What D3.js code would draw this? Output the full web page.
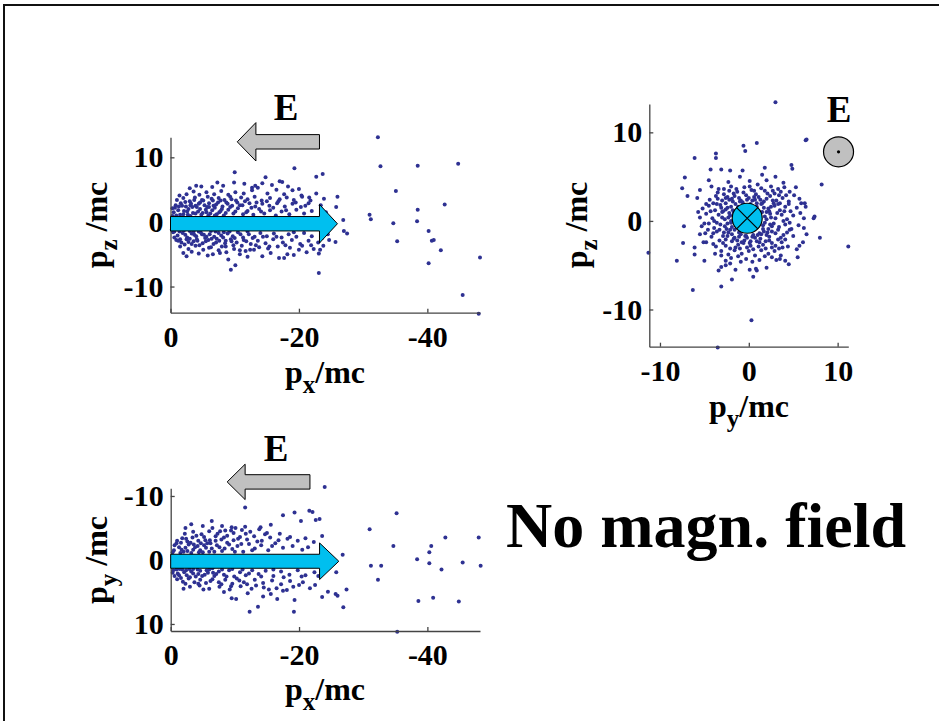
<!DOCTYPE html>
<html><head><meta charset="utf-8">
<script src="https://cdn.jsdelivr.net/npm/d3@7"></script>
<style>
body{margin:0;background:#fff}
svg{display:block}
text{font-family:"Liberation Serif","Times New Roman",serif;font-weight:bold;fill:#000}
</style>
</head><body>
<svg id="c" width="939" height="721"></svg>
<script>
// ---------- data ----------
const pxTicks = [0, -20, -40];
const pyTicks = [-10, 0, 10];
const pzTicks = [-10, 0, 10];
const titleText = "No magn. field";
const fieldLabel = "E";

// panel 1 : [px, pz]
const pzVsPx = [
 [-32.3,13.1],[-32.7,8.6],[-38.5,8.7],[-44.8,9.0],[-35.1,4.8],[-42.7,2.7],[-38.5,1.9],[-31.0,1.1],[-31.2,0.4],
 [-34.7,-0.2],[-38.4,0.1],[-40.2,-1.4],[-35.3,-3.0],[-40.7,-2.9],[-41.0,-2.8],[-42.1,-4.4],[-40.2,-6.4],[-48.2,-5.5],
 [-45.5,-11.3],[-48.0,-14.2],
 [-10.0,7.7],[-19.3,8.3],[-22.7,7.0],[-23.7,7.4],[-14.8,6.9],[-17.4,6.2],[-4.8,5.5],[-26.0,3.9],[-25.8,2.3],
 [-26.9,0.3],[-27.0,-1.4],[-27.5,-1.8],[-25.7,-3.1],[-23.1,-7.9],[-9.4,-7.4],[-10.1,-6.7],[-2.5,-5.3],[-14.3,-5.3],
 [-16.9,-5.6],[-17.7,-5.6],[-19.2,-5.1],[-23.1,-4.9],[-23.3,-4.3],[-23.8,-3.7],[-6.6,-5.0],[-8.7,-4.7],[-11.7,-4.5],[-13.0,-4.3],
 [-0.5,1.5],[-1.2,1.8],[-2.0,1.2],[-2.8,2.0],[-3.5,1.4],[-4.1,2.3],[-4.8,1.1],[-5.5,1.9],[-6.2,1.3],[-6.9,2.2],[-7.6,1.5],
 [-8.3,1.0],[-9.0,1.9],[-9.8,1.3],[-10.5,2.1],[-11.3,1.2],[-12.0,1.7],[-12.9,1.1],[-13.8,2.0],[-14.6,1.3],[-15.5,1.8],
 [-16.4,1.0],[-17.3,1.6],[-18.5,1.2],[-19.6,1.9],[-20.8,1.3],[-22.0,1.7],[-24.2,1.5],
 [-0.8,2.6],[-1.6,2.9],[-2.4,2.4],[-3.2,2.8],[-3.9,2.5],[-4.6,3.0],[-5.3,2.6],[-6.0,2.9],[-6.7,2.5],[-7.4,3.0],[-8.1,2.4],
 [-8.9,2.8],[-9.6,2.5],[-10.4,3.0],[-11.2,2.6],[-12.3,2.9],[-13.2,2.4],[-14.3,2.8],[-15.4,2.5],[-16.6,2.9],[-17.8,2.4],
 [-19.0,2.8],[-20.3,2.3],[-21.5,2.9],[-23.4,2.6],
 [-1.0,3.4],[-2.0,3.7],[-3.0,3.2],[-3.8,3.8],[-4.9,3.4],[-5.8,3.9],[-6.6,3.3],[-7.5,3.7],[-8.4,3.4],[-9.3,3.9],[-10.2,3.3],
 [-11.0,3.8],[-12.0,3.5],[-13.1,3.9],[-14.2,3.3],[-15.5,3.7],[-16.8,3.2],[-18.1,3.8],[-19.2,3.4],[-20.5,3.9],[-21.8,3.3],[-23.9,3.6],
 [-2.5,4.3],[-3.6,4.7],[-4.5,4.2],[-5.6,4.6],[-6.8,4.3],[-7.9,4.8],[-9.0,4.2],[-10.1,4.6],[-11.4,4.4],[-12.7,4.9],[-13.6,5.3],
 [-15.1,4.4],[-16.5,5.0],[-17.7,4.3],[-19.0,4.9],[-20.4,4.1],[-21.6,3.8],
 [-3.0,5.2],[-6.5,5.4],[-8.2,5.6],[-11.5,5.9],[-13.2,5.6],[-15.8,5.7],[-18.3,5.5],[-20.0,5.1],[-9.9,6.1],[-17.0,6.3],[-12.7,5.3],
 [-0.4,-1.6],[-1.1,-2.1],[-1.9,-1.7],[-2.6,-2.4],[-3.3,-1.8],[-4.0,-2.2],[-4.7,-1.6],[-5.4,-2.5],[-6.1,-1.9],[-6.8,-2.3],
 [-7.5,-1.7],[-8.2,-2.4],[-8.9,-1.8],[-9.7,-2.2],[-10.5,-1.6],[-11.3,-2.4],[-12.2,-1.9],[-13.1,-2.3],[-14.0,-1.7],[-15.0,-2.2],
 [-16.1,-1.8],[-17.3,-2.4],[-18.4,-1.9],[-19.6,-2.3],[-20.8,-1.7],[-22.0,-2.2],[-24.5,-1.9],
 [-0.9,-2.8],[-1.7,-3.2],[-2.5,-2.7],[-3.3,-3.4],[-4.2,-2.9],[-5.0,-3.3],[-5.9,-2.8],[-6.7,-3.4],[-7.6,-2.9],[-8.5,-3.3],
 [-9.4,-2.7],[-10.3,-3.2],[-11.4,-2.8],[-12.5,-3.4],[-13.6,-2.9],[-14.8,-3.3],[-16.0,-2.7],[-17.5,-3.2],[-18.9,-2.8],
 [-20.2,-3.4],[-21.5,-2.9],[-23.0,-3.2],
 [-1.5,-3.8],[-2.8,-4.2],[-3.9,-3.7],[-5.1,-4.3],[-6.3,-3.9],[-7.5,-4.4],[-8.6,-3.8],[-9.9,-4.2],[-11.1,-3.7],[-12.4,-4.3],
 [-13.8,-3.9],[-15.2,-4.1],[-16.7,-3.8],[-18.6,-4.0],[-20.5,-3.7],[-22.3,-4.2],
 [-4.4,-4.9],[-5.8,-5.2],[-7.7,-4.8],[-10.8,-5.0],[-15.6,-4.8],[-18.2,-5.0],[-21.2,-4.7],
 [-1.0,0.0],[-5.0,-0.5],[-9.0,0.3],[-14.0,-0.6],[-19.0,0.2],
 [-0.3,0.9],[-0.7,2.2],[-1.5,1.1],[-1.8,2.5],[-2.3,3.1],[-2.6,1.6],[-3.1,0.9],[-3.4,2.3],[-3.7,3.4],[-4.3,1.6],[-4.4,2.8],
 [-5.0,1.4],[-5.1,3.3],[-5.7,2.3],[-5.9,1.0],[-6.4,3.6],[-6.5,1.8],[-7.1,2.7],[-7.2,1.2],[-7.8,3.3],[-8.0,2.0],[-8.6,1.4],
 [-8.7,3.0],[-9.3,2.3],[-9.5,3.5],[-10.1,1.6],[-10.8,2.6],[-11.6,3.2],[-11.8,1.5],[-12.6,2.2],[-13.4,3.0],[-14.1,1.6],
 [-15.0,3.2],[-16.0,2.2],[-17.0,3.5],[-18.0,1.8],[-19.5,3.0],[-21.0,2.5],[-22.7,4.4],[-23.5,1.2],
 [-0.2,-1.2],[-0.6,-2.4],[-1.4,-1.5],[-1.5,-2.7],[-2.2,-3.5],[-2.3,-2.0],[-3.0,-1.4],[-3.0,-2.6],[-3.6,-3.0],[-3.7,-2.0],
 [-4.4,-1.5],[-4.5,-3.6],[-5.2,-2.0],[-5.5,-3.0],[-6.0,-4.0],[-6.4,-2.6],[-7.0,-1.5],[-7.1,-3.2],[-7.9,-2.1],[-8.0,-3.8],
 [-8.6,-2.9],[-9.2,-1.5],[-9.8,-3.6],[-10.0,-2.5],[-10.8,-4.4],[-10.9,-1.9],[-11.8,-3.0],[-12.0,-1.5],[-12.8,-2.5],
 [-13.3,-3.6],[-14.4,-2.3],[-15.4,-3.8],[-16.5,-2.3],[-17.9,-3.6],[-19.2,-1.6],[-20.0,-4.3],[-21.9,-3.6],[-23.6,-2.5],
 [-24.7,-2.8],[-2.0,-4.8],[-3.3,-4.6],[-9.0,-5.8],[-12.0,-5.4],
 [-1.4,4.1],[-4.0,5.6],[-7.3,6.1],[-14.3,6.0],
 [-0.3,2.1],[-0.9,1.0],[-1.3,2.4],[-2.1,1.7],[-2.7,1.1],[-3.1,2.6],[-3.9,1.3],[-4.6,2.0],[-5.6,1.5],[-6.0,2.3],[-6.9,1.0],
 [-7.8,1.7],[-0.6,-1.5],[-1.2,-2.9],[-2.1,-1.3],[-2.8,-3.1],[-3.6,-1.5],[-4.1,-2.7],[-4.9,-1.9],[-5.6,-2.3],[-6.3,-1.4],
 [-7.2,-2.6],[-8.3,-1.6],[-9.5,-3.0]
];

// panel 2 : [py, pz]
const pzVsPy = [
 [3.0,13.4],[6.4,9.1],[6.5,9.2],[0.9,8.8],[-0.6,8.5],[-0.4,7.9],[-3.7,7.6],[-3.7,7.1],[-6.1,7.1],[4.8,6.3],[4.9,5.9],
 [1.8,6.0],[-2.1,5.7],[-0.7,5.7],[-4.3,5.8],[-3.1,5.8],[-7.2,4.9],[8.2,4.1],[-7.5,3.7],[-6.9,2.8],[5.7,2.5],[6.3,2.0],
 [6.4,1.6],[7.4,0.5],[7.3,0.3],[-7.3,-0.6],[-5.0,-0.3],[-7.4,-2.5],[-5.1,-2.4],[-4.8,-2.4],[-6.1,-3.0],[-6.1,-3.8],
 [-11.3,-3.6],[-8.1,-4.5],[8.0,-1.9],[11.2,-2.9],[5.7,-2.8],[6.1,-2.4],[5.5,-4.1],[4.1,-4.5],[3.5,-4.3],[-3.1,-5.2],
 [-2.6,-5.0],[-2.1,-4.8],[-1.5,-5.5],[0.1,-5.5],[0.8,-5.4],[0.9,-5.6],[0.5,-6.3],[-0.9,-4.6],[-1.9,-6.6],[-3.1,-7.4],
 [-6.3,-7.8],[0.3,-11.2],[-3.5,-14.3],
 [-2.8,3.6],[-2.0,3.9],[-1.3,3.3],[-0.5,3.8],[0.3,3.5],[1.0,4.1],[1.8,3.4],[2.5,3.9],[3.3,3.6],[4.0,3.8],[-3.5,3.2],
 [-1.7,3.1],[0.8,3.0],[2.9,3.1],[4.6,3.3],[-2.3,4.4],[0.1,4.5],[2.0,4.6],[3.9,4.3],[-4.2,3.9],
 [-4.4,2.4],[-3.7,2.8],[-3.0,2.3],[-2.4,2.7],[-1.8,2.2],[-1.1,2.6],[-0.3,2.9],[0.4,2.3],[1.1,2.7],[1.7,2.2],[2.4,2.8],
 [3.1,2.3],[3.8,2.6],[4.5,2.2],[5.1,2.9],[-2.6,2.0],[-0.7,2.1],[0.9,2.0],[2.8,2.0],[-4.8,1.9],
 [-5.2,1.4],[-4.5,1.7],[-3.8,1.2],[-3.2,1.8],[-2.6,1.3],[-2.0,1.6],[1.7,1.5],[2.3,1.1],[2.9,1.7],[3.5,1.2],[4.1,1.6],
 [4.7,1.1],[-1.5,1.9],[1.4,1.9],[5.4,1.5],
 [-5.5,0.4],[-4.8,0.8],[-4.1,0.3],[-3.4,0.7],[-2.7,0.2],[-2.1,0.6],[1.8,0.5],[2.4,0.8],[3.0,0.3],[3.7,0.7],[4.3,0.2],
 [5.0,0.6],[5.8,0.9],
 [-5.3,-0.6],[-4.5,-0.3],[-3.9,-0.8],[-3.2,-0.4],[-2.5,-0.9],[-2.0,-0.2],[1.6,-0.5],[2.2,-0.9],[2.8,-0.3],[3.4,-0.7],
 [4.1,-0.4],[4.8,-0.9],[5.6,-0.5],[6.2,-0.8],
 [-4.9,-1.4],[-4.2,-1.8],[-3.6,-1.2],[-2.9,-1.7],[-2.3,-1.3],[-1.6,-1.9],[-0.9,-1.5],[1.0,-1.6],[1.7,-1.2],[2.3,-1.8],
 [3.0,-1.4],[3.6,-1.9],[4.3,-1.3],[5.0,-1.7],[-0.2,-1.9],[0.4,-1.8],
 [-4.0,-2.6],[-3.3,-2.2],[-2.6,-2.8],[-1.9,-2.3],[-1.2,-2.7],[-0.5,-2.2],[0.2,-2.8],[0.9,-2.3],[1.6,-2.7],[2.3,-2.2],
 [3.0,-2.8],[3.7,-2.4],[4.4,-2.9],[-1.5,-3.0],
 [-3.1,-3.4],[-2.3,-3.8],[-1.6,-3.3],[-0.8,-3.7],[0.0,-3.4],[0.7,-3.9],[1.4,-3.3],[2.2,-3.7],[2.9,-3.4],[-3.8,-3.7],[3.6,-3.9],
 [-2.0,-4.2],[-0.3,-4.3],[1.2,-4.4],[2.6,-4.1],
 [-0.5,0.5],[0.3,-0.4],[-1.0,-0.6],[0.8,0.9],[-0.2,1.3],[1.1,0.0],[-1.3,0.4],
 [-4.0,2.0],[-3.5,2.5],[-3.1,1.5],[-2.8,3.0],[-2.2,2.4],[-2.2,3.4],[-1.6,2.8],[-1.4,3.6],[-0.9,2.3],[-0.6,3.2],[0.0,2.6],
 [0.1,3.9],[0.6,2.7],[0.6,3.4],[1.3,2.4],[1.4,3.7],[2.1,3.1],[2.0,2.5],[2.7,2.3],[2.7,3.4],[3.4,2.9],[3.5,2.0],[4.2,2.9],
 [-4.3,1.1],[-3.9,0.0],[-3.6,1.9],[-3.0,0.4],[-2.9,1.1],[-2.4,-0.3],[-2.2,0.9],[-1.8,1.2],[2.0,0.2],[2.0,1.0],[2.5,1.6],
 [2.6,-0.6],[3.2,0.9],[3.3,1.9],[3.9,0.0],[4.0,1.1],[4.6,-0.2],[4.5,1.9],[-4.6,-1.0],[-4.0,-1.4],[-3.6,-0.2],[-3.3,-1.0],
 [-2.8,-1.3],[-2.6,-2.1],[-2.1,-1.0],[-1.9,-1.5],[-1.3,-2.2],[-1.1,-1.8],[-0.6,-2.5],[-0.3,-1.7],[0.2,-2.3],[0.7,-1.9],
 [1.3,-2.0],[1.4,-1.5],[2.0,-1.6],[1.9,-2.3],[2.6,-1.2],[2.6,-2.5],[3.3,-1.0],[3.3,-2.1],[3.9,-1.6],[4.1,-2.1],[4.6,-1.0],
 [-3.7,-2.9],[-2.9,-2.5],[-2.1,-3.1],[-1.0,-3.1],[-0.2,-3.0],[0.5,-3.2],[1.1,-2.9],[1.9,-3.1],[2.6,-3.0],[3.4,-3.1],
 [-2.6,-4.5],[-1.2,-4.0],[0.4,-4.6],[1.8,-4.0],[3.1,-4.4],[-5.5,-1.5],[-5.7,1.0],[-5.8,2.6],[-5.5,3.5],[5.3,3.8],
 [5.9,2.0],[6.2,0.3],[6.5,-1.5],[5.4,-3.2],[-4.5,4.6],[-1.0,5.0],[1.5,5.2],[3.0,5.0],[-5.0,-4.5],[-3.4,-5.6],[2.0,-5.3],[4.5,-4.9],
 [-2.0,0.0],[-1.9,-0.7],[-1.7,0.9],[-1.2,1.6],[-0.6,1.8],[0.2,1.9],[0.9,1.6],[1.5,1.0],[1.8,-0.2],[1.6,-0.9],[1.2,-1.4],
 [0.5,-1.6],[-0.4,-1.7],[-1.1,-1.3],[-1.6,-1.0],[-2.3,0.4],[-2.4,1.5],[-1.9,2.5],[-1.0,2.2],[-0.2,2.4],[0.7,2.4],[1.5,2.0],
 [2.2,1.4],[2.5,0.4],[2.4,-0.4],[2.1,-1.3],[1.2,-2.4],[0.1,-2.5],[-0.8,-2.4],[-1.7,-2.0],[-2.4,-1.7],[-2.7,-0.6],[-3.0,1.0],
 [-2.6,2.6],[-3.4,3.6],[3.6,3.3],[3.8,-3.0],[-3.1,-3.9]
];

// panel 3 : [px, py]
const pyVsPx = [
 [-24.0,-11.4],[-11.6,-8.2],[-21.6,-7.7],[-22.1,-7.5],[-19.3,-7.4],[-17.5,-7.0],[-22.6,-6.25],[-23.2,-6.4],[-20.3,-6.1],
 [-6.4,-6.1],[-2.3,-5.0],[-9.5,-5.1],[-15.6,-5.5],[-35.2,-7.3],[-31.0,-4.8],[-23.6,-3.75],[-34.7,-2.2],[-42.8,-3.5],
 [-48.0,-3.5],[-40.6,-2.2],[-40.3,-1.2],[-26.8,-0.8],[-38.4,-0.1],[-40.3,0.5],[-45.5,0.4],[-48.3,0.9],[-31.2,0.9],
 [-32.8,0.9],[-42.2,1.5],[-25.8,1.9],[-32.3,3.1],[-38.6,6.4],[-40.9,5.9],[-44.9,6.5],[-27.4,4.6],[-26.9,7.4],[-24.5,4.95],
 [-25.7,5.3],[-26.0,5.6],[-23.6,5.8],[-19.2,8.1],[-19.3,6.25],[-12.3,8.1],[-13.6,7.3],[-10.2,6.1],[-9.5,6.0],[-14.4,5.7],
 [-16.6,6.1],[-17.5,4.8],[-18.1,4.7],[-35.3,11.2],[-18.6,-3.6],[-21.0,-3.4],[-22.5,3.9],[-20.6,3.5],
 [-0.5,-1.5],[-1.3,-2.0],[-2.0,-1.3],[-2.8,-2.4],[-3.5,-1.6],[-4.2,-2.2],[-5.0,-1.2],[-5.7,-2.6],[-6.4,-1.8],[-7.2,-2.3],
 [-8.0,-1.4],[-8.8,-2.7],[-9.6,-1.7],[-10.4,-2.2],[-11.3,-1.3],[-12.2,-2.5],[-13.1,-1.8],[-14.1,-2.3],[-15.2,-1.5],
 [-16.3,-2.6],[-17.5,-1.9],[-19.0,-2.2],[-20.5,-1.6],[-22.3,-2.8],
 [-1.0,-3.0],[-1.8,-3.4],[-2.6,-2.9],[-3.4,-3.5],[-4.3,-3.0],[-5.2,-3.6],[-6.1,-3.1],[-7.0,-3.7],[-7.9,-3.2],[-8.8,-3.8],
 [-9.8,-3.1],[-10.8,-3.6],[-11.9,-3.2],[-13.0,-3.7],[-14.2,-3.0],[-15.5,-3.5],[-16.8,-3.1],[-18.2,-3.3],
 [-2.2,-4.1],[-3.5,-4.4],[-4.8,-4.0],[-6.0,-4.5],[-7.3,-4.1],[-8.5,-4.6],[-9.8,-4.2],[-11.1,-4.7],[-12.4,-4.4],
 [-13.8,-4.8],[-15.0,-4.2],[-6.5,-5.0],[-8.0,-5.3],[-11.6,-5.2],[-14.0,-5.1],
 [-0.4,1.6],[-1.1,2.1],[-1.8,1.5],[-2.5,2.4],[-3.2,1.8],[-3.9,2.6],[-4.6,1.7],[-5.3,2.3],[-6.0,1.5],[-6.8,2.5],[-7.5,1.8],
 [-8.3,2.3],[-9.1,1.6],[-9.9,2.6],[-10.8,1.9],[-11.7,2.4],[-12.7,1.6],[-13.7,2.2],[-14.8,1.7],[-16.0,2.5],[-17.2,1.8],
 [-18.5,2.3],[-19.8,1.6],[-21.0,2.4],[-22.4,1.9],
 [-1.0,3.0],[-1.9,3.4],[-2.8,2.9],[-3.7,3.5],[-4.6,3.1],[-5.5,3.6],[-6.5,3.0],[-7.5,3.5],[-8.5,3.1],[-9.6,3.7],[-10.7,3.2],
 [-11.9,3.8],[-13.1,3.1],[-14.4,3.6],[-15.8,3.2],[-17.2,3.8],[-18.6,3.3],[-20.0,3.9],
 [-3.0,4.2],[-4.5,4.0],[-6.0,4.5],[-7.6,4.2],[-9.2,4.6],[-10.9,4.1],[-12.6,4.5],[-14.5,4.3],[-16.5,4.4],[-21.7,4.4],
 [-3.0,0.0],[-8.0,0.5],[-14.0,-0.3],
 [-0.6,-2.3],[-1.5,-1.1],[-1.6,-2.7],[-2.3,-1.9],[-2.4,-3.3],[-3.1,-2.7],[-3.2,-1.1],[-3.8,-2.0],[-4.0,-3.8],[-4.6,-1.5],
 [-4.7,-2.6],[-5.4,-3.1],[-5.5,-1.9],[-6.2,-2.6],[-6.8,-1.3],[-7.0,-3.0],[-7.6,-2.0],[-8.3,-3.5],[-8.4,-1.8],[-9.1,-2.4],
 [-9.4,-4.6],[-10.0,-1.3],[-10.5,-3.3],[-11.0,-2.5],[-11.7,-4.1],[-12.7,-1.5],[-13.5,-2.9],[-14.7,-4.0],[-15.8,-2.2],
 [-17.0,-4.1],[-19.8,-3.0],[-21.4,-2.0],[-3.2,-5.6],[-5.0,-5.3],[-7.7,-4.5],[-10.1,-5.0],
 [-0.6,2.5],[-1.4,1.4],[-1.6,2.8],[-2.1,1.9],[-2.3,3.7],[-2.9,1.4],[-3.0,2.7],[-3.5,2.1],[-4.2,1.5],[-4.3,3.7],[-4.9,2.5],
 [-5.1,4.6],[-5.8,2.0],[-6.2,3.3],[-6.5,1.3],[-7.1,2.2],[-7.9,3.8],[-8.0,1.5],[-8.7,2.6],[-9.4,4.1],[-9.6,1.4],[-10.3,2.9],
 [-11.2,1.5],[-11.4,3.5],[-12.2,2.1],[-13.3,4.0],[-14.1,2.6],[-15.3,4.6],[-16.0,1.5],[-17.6,2.7],[-19.1,4.2],[-20.4,2.6],
 [-23.0,2.5],[-2.0,4.5],[-8.3,5.0],[-12.0,5.2],[-15.6,5.3],
 [-0.3,-1.2],[-0.9,-2.6],[-1.7,-1.6],[-2.6,-1.4],[-3.6,-2.4],[-4.4,-1.2],[-5.2,-2.3],[-6.0,-1.3],[-0.3,2.0],[-0.9,1.5],
 [-1.3,2.4],[-2.4,1.6],[-3.5,1.4],[-4.3,2.2],[-5.6,1.6],[-6.6,2.0]
];

// ---------- drawing ----------
const svg = d3.select("#c");
const dotColor = "#2E3192", cyan = "#00BFEF", gray = "#C0C0C0", axisColor = "#444";

// frame
svg.append("path").attr("d", "M4,721 V5 H939").attr("fill", "none").attr("stroke", "#111").attr("stroke-width", 2);

const panels = [
  {data: pzVsPx, xd: [0, -48.2], xr: [170.5, 480], yd: [-14.05, 13.1], yr: [312.7, 137.3],
   xt: pxTicks, yt: pzTicks, xs: "x", ys: "z", xl: [325, 383], yl: [107, 225]},
  {data: pzVsPy, xd: [-11.2, 11.2], xr: [649.3, 848.3], yd: [-14.2, 13.2], yr: [346.7, 104],
   xt: pyTicks, yt: pzTicks, xs: "y", ys: "z", xl: [749, 417], yl: [587, 225]},
  {data: pyVsPx, xd: [0, -48.2], xr: [170.7, 480], yd: [-11.2, 11.1], yr: [488.3, 631],
   xt: pxTicks, yt: pyTicks, xs: "x", ys: "y", xl: [325, 700], yl: [107, 560]}
];

function axisLabel(x, y, sub, rot, gap) {
  const t = svg.append("text")
    .attr("transform", `translate(${x},${y})` + (rot ? " rotate(-90)" : ""))
    .attr("text-anchor", "middle").style("font-size", "32px");
  t.append("tspan").text("p");
  t.append("tspan").text(sub).attr("dy", 10).style("font-size", "25px");
  t.append("tspan").text((gap ? " " : "") + "/mc").attr("dy", -10);
}

panels.forEach(p => {
  p.x = d3.scaleLinear().domain(p.xd).range(p.xr);
  p.y = d3.scaleLinear().domain(p.yd).range(p.yr);
  const bottom = Math.max(p.yr[0], p.yr[1]);
  const g = svg.append("g");
  g.selectAll("circle").data(p.data).join("circle")
    .attr("cx", d => p.x(d[0])).attr("cy", d => p.y(d[1])).attr("r", 2).attr("fill", dotColor);

  const xa = svg.append("g").attr("transform", `translate(0,${bottom})`)
    .call(d3.axisBottom(p.x).tickValues(p.xt).tickFormat(d => String(d)).tickSizeInner(-4).tickSizeOuter(0).tickPadding(13));
  const ya = svg.append("g").attr("transform", `translate(${p.xr[0]},0)`)
    .call(d3.axisLeft(p.y).tickValues(p.yt).tickFormat(d => String(d)).tickSizeInner(-4).tickSizeOuter(0).tickPadding(7));
  [xa, ya].forEach(a => {
    a.attr("font-family", null).attr("font-size", null);
    a.selectAll("path,line").attr("stroke", axisColor).attr("stroke-width", 1.3);
    a.selectAll("text").style("font-size", "30px").attr("fill", "#000");
  });
  axisLabel(p.xl[0], p.xl[1], p.xs, false, false);
  axisLabel(p.yl[0], p.yl[1], p.ys, true, true);
});

// arrows (in data units of each panel)
function arrow(p, tipX, baseX, endX, yc, shaft, head, fill) {
  const tx = p.x(tipX), bx = p.x(baseX), ex = p.x(endX), cy = p.y(yc);
  const pts = [[tx, cy], [bx, cy - head], [bx, cy - shaft], [ex, cy - shaft], [ex, cy + shaft], [bx, cy + shaft], [bx, cy + head]];
  svg.append("path").attr("d", d3.line()(pts) + "Z").attr("fill", fill).attr("stroke", "#000").attr("stroke-width", 1);
}
const P1 = panels[0], P2 = panels[1], P3 = panels[2];
arrow(P1, -26.0, -23.2, 0, -0.28, 7.2, 19.3, cyan);
arrow(P1, -10.4, -13.3, -23.2, 12.4, 7.2, 19.2, gray);
arrow(P3, -26.2, -23.2, 0, 0.2, 7.0, 18.3, cyan);
arrow(P3, -8.8, -11.6, -21.7, -12.2, 7.2, 17.7, gray);

// field symbols in panel 2
const cc = [P2.x(-0.18), P2.y(0.3)], r = 15;
svg.append("circle").attr("cx", cc[0]).attr("cy", cc[1]).attr("r", r).attr("fill", cyan).attr("stroke", "#000").attr("stroke-width", 1.2);
const k = r * Math.SQRT1_2;
svg.append("path").attr("d", `M${cc[0]-k},${cc[1]-k}L${cc[0]+k},${cc[1]+k}M${cc[0]-k},${cc[1]+k}L${cc[0]+k},${cc[1]-k}`)
  .attr("stroke", "#000").attr("stroke-width", 1.2);
const gc = [P2.x(10.1), P2.y(7.8)];
svg.append("circle").attr("cx", gc[0]).attr("cy", gc[1]).attr("r", r).attr("fill", gray).attr("stroke", "#000").attr("stroke-width", 1.2);
svg.append("circle").attr("cx", gc[0]).attr("cy", gc[1]).attr("r", 1.6).attr("fill", "#000");

// E labels
[[286, 120], [839, 122], [276, 461]].forEach(([x, y]) =>
  svg.append("text").attr("x", x).attr("y", y).attr("text-anchor", "middle").style("font-size", "37px").text(fieldLabel));

svg.append("text").attr("x", 506).attr("y", 547).style("font-size", "64px").text(titleText);
</script>
</body></html>
